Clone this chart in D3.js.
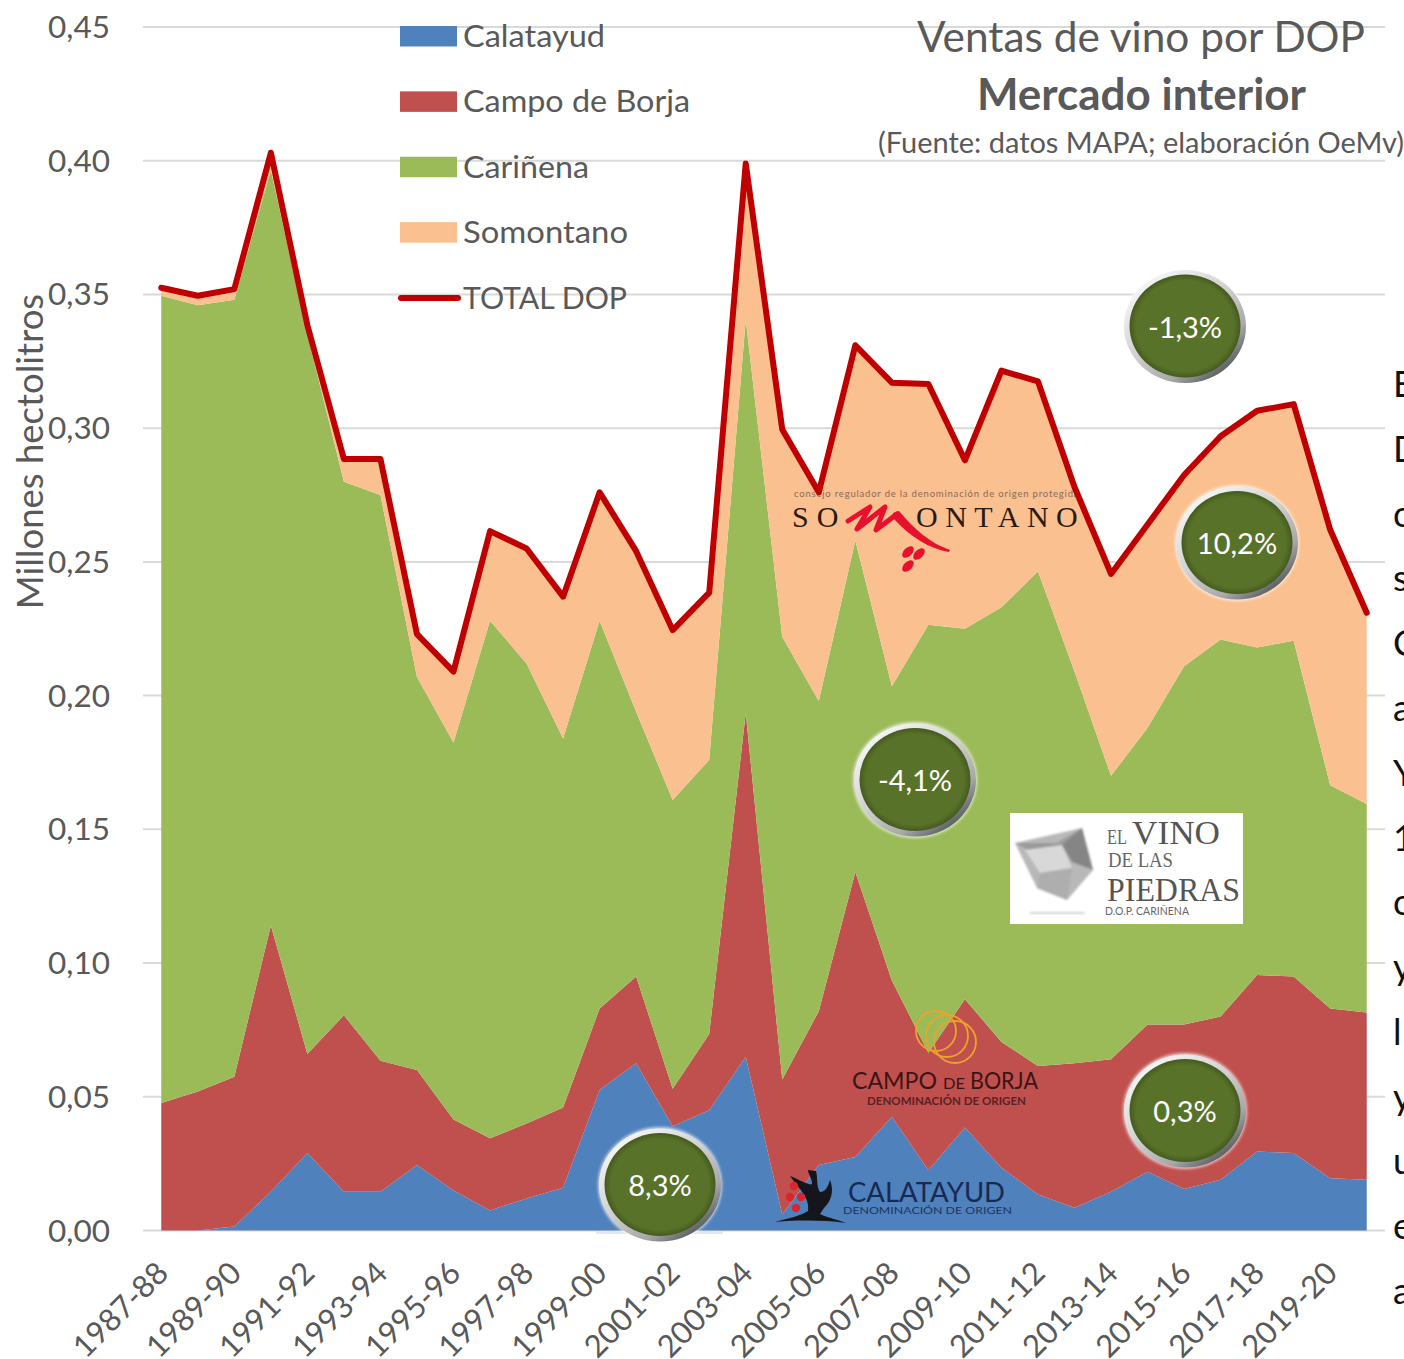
<!DOCTYPE html>
<html lang="es">
<head>
<meta charset="utf-8">
<script src="https://cdn.jsdelivr.net/npm/d3@7"></script>
<style>
html,body{margin:0;padding:0;background:#fff;overflow:hidden}
svg{display:block;font-family:Lato,"Open Sans",sans-serif}
</style>
</head>
<body>
<div id="chart"></div>
<script>
const campaigns = ["1987-88","1988-89","1989-90","1990-91","1991-92","1992-93","1993-94","1994-95","1995-96","1996-97","1997-98","1998-99","1999-00","2000-01","2001-02","2002-03","2003-04","2004-05","2005-06","2006-07","2007-08","2008-09","2009-10","2010-11","2011-12","2012-13","2013-14","2014-15","2015-16","2016-17","2017-18","2018-19","2019-20","2020-21"];
const tickLabels = campaigns.filter((d,i)=>i%2===0);
const yTicks = [0,0.05,0.10,0.15,0.20,0.25,0.30,0.35,0.40,0.45];
const calatayud = [0,0,0.0015,0.0145,0.029,0.0145,0.0145,0.0245,0.015,0.0075,0.012,0.016,0.0525,0.0625,0.039,0.045,0.065,0.006,0.0245,0.0275,0.0425,0.0225,0.0385,0.0235,0.0135,0.0085,0.0145,0.022,0.0155,0.019,0.0295,0.029,0.0195,0.019];
const campoDeBorja = [0.0477,0.052,0.056,0.0995,0.037,0.066,0.049,0.0355,0.0265,0.027,0.028,0.030,0.0305,0.0325,0.014,0.0285,0.1285,0.0505,0.0575,0.1065,0.051,0.044,0.048,0.047,0.048,0.054,0.0495,0.055,0.0615,0.061,0.066,0.066,0.0635,0.0625];
const carinena = [0.3018,0.294,0.2905,0.2825,0.269,0.1995,0.2115,0.147,0.141,0.1935,0.172,0.138,0.145,0.099,0.108,0.1025,0.147,0.1655,0.116,0.124,0.110,0.160,0.1385,0.1625,0.185,0.1465,0.106,0.111,0.134,0.141,0.1225,0.1255,0.0835,0.078];
const somontano = [0.003,0.0035,0.004,0.0065,0.0035,0.0085,0.0135,0.016,0.0265,0.0335,0.043,0.053,0.048,0.060,0.0635,0.0625,0.0585,0.0775,0.078,0.073,0.1135,0.090,0.063,0.0885,0.071,0.069,0.0755,0.076,0.0715,0.076,0.0885,0.0885,0.0955,0.0715];
const totalDop = [0.3525,0.3495,0.352,0.403,0.3385,0.2885,0.2885,0.223,0.209,0.2615,0.255,0.237,0.276,0.254,0.2245,0.2385,0.399,0.2995,0.276,0.331,0.317,0.3165,0.288,0.3215,0.3175,0.278,0.2455,0.264,0.2825,0.297,0.3065,0.309,0.262,0.231];
const seriesNames = ["Calatayud","Campo de Borja","Cariñena","Somontano"];
const seriesColors = ["#4f81bd","#c0504d","#9bbb59","#fac090"];
const seriesValues = [calatayud,campoDeBorja,carinena,somontano];
const totalName = "TOTAL DOP", totalColor = "#c00000";
const badgeLabels = ["-1,3%","10,2%","-4,1%","0,3%","8,3%"];
const sideLetters = ["E","D","c","s","C","a","Y","1","c","y","l","y","u","e","a"];

const W=1404,H=1359,grey="#595959";
const svg=d3.select("#chart").append("svg").attr("width",W).attr("height",H).attr("viewBox",[0,0,W,H]);
const defs=svg.append("defs");
const x=d3.scalePoint().domain(campaigns).range([143,1385]).padding(0.5);
const y=d3.scaleLinear().domain([0,0.45]).range([1230.5,27]);
const fit=(sel,len)=>sel.attr("textLength",len).attr("lengthAdjust","spacingAndGlyphs");

// gridlines
svg.append("g").selectAll("line").data(yTicks).join("line")
  .attr("x1",143).attr("x2",1385).attr("y1",d=>y(d)).attr("y2",d=>y(d))
  .attr("stroke","#d9d9d9").attr("stroke-width",2);

// stacked areas
const rows=campaigns.map((c,i)=>{const r={c};seriesNames.forEach((n,k)=>r[n]=seriesValues[k][i]);return r;});
const stack=d3.stack().keys(seriesNames)(rows);
const area=d3.area().x(d=>x(d.data.c)).y0(d=>y(d[0])).y1(d=>y(d[1]));
svg.append("g").selectAll("path").data(stack).join("path")
  .attr("d",area).attr("fill",(d,i)=>seriesColors[i]);

// y labels
svg.append("g").selectAll("text").data(yTicks).join("text")
  .attr("x",110).attr("y",d=>y(d)+11).attr("text-anchor","end")
  .attr("font-size",31.5).attr("fill",grey)
  .text(d=>d3.format(".2f")(d).replace(".",","));
svg.append("text").attr("transform","translate(43,451.5) rotate(-90)")
  .attr("text-anchor","middle").attr("font-size",36.5).attr("fill",grey).text("Millones hectolitros");
// x labels
svg.append("g").selectAll("text").data(tickLabels).join("text")
  .attr("transform",d=>`translate(${x(d)+9},1275) rotate(-45)`)
  .attr("text-anchor","end").attr("font-size",31).attr("fill",grey).text(d=>d);

// Somontano logo (sits under the total line)
const som=svg.append("g");
const serif="Liberation Serif";
som.append("text").attr("x",794).attr("y",497).attr("font-size",9.5).attr("fill","#8a6a55").attr("letter-spacing",0.8).text("consejo regulador de la denominación de origen protegida");
som.append("text").attr("x",792).attr("y",527).attr("font-family",serif).attr("font-size",30).attr("fill","#2a1a10").attr("letter-spacing",8).text("SO");
som.append("text").attr("x",916).attr("y",527).attr("font-family",serif).attr("font-size",30).attr("fill","#2a1a10").attr("letter-spacing",7.5).text("ONTANO");
som.append("path").attr("d","M848 521 L870 507 L857 529 L885 507 L876 530 L897 514").attr("fill","none").attr("stroke","#e8112d").attr("stroke-width",5).attr("stroke-linejoin","round").attr("stroke-linecap","round");
som.append("path").attr("d","M893 513 L899 511 C915 530 930 543 950 550 L949 552 C930 549 910 537 893 518Z").attr("fill","#e8112d");
[[908,552],[919,554],[908,566]].forEach(p=>som.append("ellipse").attr("cx",p[0]).attr("cy",p[1]).attr("rx",7).attr("ry",4.2).attr("transform",`rotate(-45 ${p[0]} ${p[1]})`).attr("fill","#e8112d"));

// total line
svg.append("path").datum(totalDop)
  .attr("d",d3.line().x((d,i)=>x(campaigns[i])).y(d=>y(d)))
  .attr("fill","none").attr("stroke",totalColor).attr("stroke-width",6).attr("stroke-linecap","round").attr("stroke-linejoin","round");

// legend
const legendY=d3.scalePoint().domain(seriesNames.concat(totalName)).range([36.5,298]);
const legendWidths=[142,227,126,165];
const lg=svg.append("g");
seriesNames.forEach((n,i)=>{
  lg.append("rect").attr("x",400).attr("y",legendY(n)-10.5).attr("width",57).attr("height",20.5).attr("fill",seriesColors[i]);
  fit(lg.append("text").attr("x",463).attr("y",legendY(n)+10.5).attr("font-size",31.5).attr("fill",grey).text(n),legendWidths[i]);
});
lg.append("line").attr("x1",401).attr("x2",458).attr("y1",298).attr("y2",298).attr("stroke",totalColor).attr("stroke-width",6).attr("stroke-linecap","round");
fit(lg.append("text").attr("x",463).attr("y",309).attr("font-size",31.5).attr("fill",grey).text(totalName),164);

// title
fit(svg.append("text").attr("x",917).attr("y",52).attr("font-size",43).attr("fill",grey).text("Ventas de vino por DOP"),448);
fit(svg.append("text").attr("x",977).attr("y",110).attr("font-size",43).attr("font-weight",700).attr("fill",grey).text("Mercado interior"),329);
fit(svg.append("text").attr("x",878).attr("y",153).attr("font-size",29).attr("fill",grey).text("(Fuente: datos MAPA; elaboración OeMv)"),526);

// El vino de las piedras logo
const soft=defs.append("filter").attr("id","gem").attr("x","-10%").attr("y","-10%").attr("width","120%").attr("height","120%");
soft.append("feGaussianBlur").attr("stdDeviation",0.9);
const pie=svg.append("g");
pie.append("rect").attr("x",1010).attr("y",813).attr("width",233).attr("height",111).attr("fill","#fff");
const gem=pie.append("g").attr("filter","url(#gem)");
gem.append("path").attr("d","M1015 843 L1082 828 L1093 870 L1067 900 L1037 888Z").attr("fill","#b8b8b8");
gem.append("path").attr("d","M1015 843 L1057 843 L1082 828 L1062 845 L1032 852Z").attr("fill","#9a9a9a");
gem.append("path").attr("d","M1025 850 L1062 845 L1072 868 L1040 873Z").attr("fill","#d8d8d8");
gem.append("path").attr("d","M1062 845 L1082 828 L1093 870 L1072 862Z").attr("fill","#858585");
gem.append("path").attr("d","M1040 873 L1072 868 L1067 900 L1037 888Z").attr("fill","#aeaeae");
gem.append("rect").attr("x",1030).attr("y",912).attr("width",55).attr("height",2).attr("fill","#d5d5d5");
fit(pie.append("text").attr("x",1107).attr("y",844).attr("font-family",serif).attr("font-size",20).attr("fill","#666").text("EL"),20);
fit(pie.append("text").attr("x",1132).attr("y",844).attr("font-family",serif).attr("font-size",34).attr("fill","#555").text("VINO"),88);
fit(pie.append("text").attr("x",1108).attr("y",867).attr("font-family",serif).attr("font-size",20).attr("fill","#666").text("DE LAS"),65);
fit(pie.append("text").attr("x",1107).attr("y",901).attr("font-family",serif).attr("font-size",33).attr("fill","#555").text("PIEDRAS"),133);
fit(pie.append("text").attr("x",1105).attr("y",915).attr("font-size",10.5).attr("fill","#666").text("D.O.P. CARIÑENA"),84);

// Campo de Borja logo
const cb=svg.append("g");
[[936,1031,20],[947,1036,21],[955,1042,21]].forEach(p=>cb.append("circle").attr("cx",p[0]).attr("cy",p[1]).attr("r",p[2]).attr("fill","none").attr("stroke","#eba32a").attr("stroke-width",1.8));
fit(cb.append("text").attr("x",852).attr("y",1089).attr("font-size",23).attr("fill","#3a1414").text("CAMPO"),85);
fit(cb.append("text").attr("x",943).attr("y",1089).attr("font-size",15).attr("fill","#3a1414").text("DE"),22);
fit(cb.append("text").attr("x",970).attr("y",1089).attr("font-size",23).attr("fill","#3a1414").text("BORJA"),68);
fit(cb.append("text").attr("x",867).attr("y",1105).attr("font-size",11).attr("font-weight",700).attr("fill","#5a2024").text("DENOMINACIÓN DE ORIGEN"),159);

// Calatayud logo
const cal=svg.append("g");
cal.append("path").attr("d","M775 1222 C790 1218 800 1216 808 1211 C810 1198 800 1190 790 1176 C800 1180 810 1186 812 1184 C812 1178 808 1174 808 1170 L816 1171 C818 1178 816 1186 820 1192 C826 1192 828 1186 830 1180 C834 1190 832 1200 824 1208 L820 1214 C828 1218 840 1220 846 1223 C822 1220 800 1220 775 1222Z").attr("fill","#15151c");
[[794,1186],[790,1197],[801,1197],[796,1208]].forEach(p=>cal.append("circle").attr("cx",p[0]).attr("cy",p[1]).attr("r",4.2).attr("fill","#d9252e"));
fit(cal.append("text").attr("x",848).attr("y",1202).attr("font-size",26).attr("fill","#172a52").text("CALATAYUD"),157);
fit(cal.append("text").attr("x",843).attr("y",1214).attr("font-size",10).attr("fill","#1d3560").text("DENOMINACIÓN DE ORIGEN"),169);

// badges
const rim=defs.append("linearGradient").attr("id","rim").attr("x1","0.15").attr("y1","0.1").attr("x2","0.85").attr("y2","0.95");
[[0,"#f6f6f6"],[0.45,"#cfcfcf"],[0.75,"#a7a7a7"],[1,"#474c50"]].forEach(s=>rim.append("stop").attr("offset",s[0]).attr("stop-color",s[1]));
const face=defs.append("radialGradient").attr("id","face").attr("cx","0.5").attr("cy","0.5").attr("r","0.5");
[[0,"#587329"],[0.88,"#587229"],[1,"#455a1e"]].forEach(s=>face.append("stop").attr("offset",s[0]).attr("stop-color",s[1]));
const blur=defs.append("filter").attr("id","soft").attr("x","-20%").attr("y","-20%").attr("width","140%").attr("height","140%");
blur.append("feGaussianBlur").attr("stdDeviation",1.6);
const badgeCentres=[[1185,326.5],[1237,543],[915,780],[1185,1111],[660,1185]];
svg.append("rect").attr("x",596).attr("y",1231).attr("width",127).attr("height",3).attr("fill","#dfe7f2");
badgeLabels.forEach((t,i)=>{
  const g=svg.append("g").attr("transform",`translate(${badgeCentres[i][0]},${badgeCentres[i][1]})`);
  g.append("ellipse").attr("rx",62).attr("ry",58).attr("fill","#fff").attr("opacity",0.7).attr("filter","url(#soft)");
  g.append("ellipse").attr("rx",61).attr("ry",56.5).attr("fill","url(#rim)");
  g.append("ellipse").attr("rx",55.5).attr("ry",51.5).attr("cy",-0.5).attr("fill","url(#face)");
  g.append("text").attr("y",11).attr("text-anchor","middle").attr("font-size",29).attr("fill","#fff").text(t);
});

// text column cut by the right edge
svg.append("g").selectAll("text").data(sideLetters).join("text")
  .attr("x",1393).attr("y",(d,i)=>d3.scaleLinear().domain([0,14]).range([397,1304])(i))
  .attr("font-size",36).attr("fill","#111").text(d=>d);
</script>
</body>
</html>
